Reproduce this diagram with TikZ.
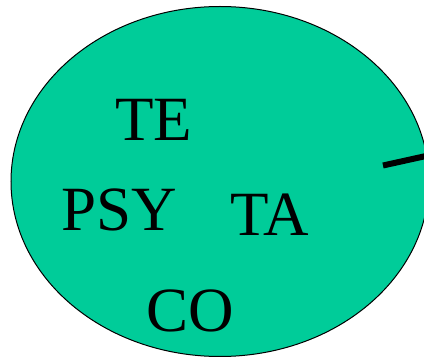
\documentclass[tikz,border=0pt]{standalone}
\usepackage{fontspec}
\setmainfont{Liberation Serif}
\definecolor{blobgreen}{RGB}{0,204,153}
\begin{document}
\begin{tikzpicture}[x=1pt,y=-1pt,
  lbl/.style={inner sep=0pt,anchor=base,font=\fontsize{63}{63}\selectfont}]
\useasboundingbox (0,0) rectangle (424,358);
\clip (0,0) rectangle (424,358);
\draw[fill=blobgreen,line width=1pt] (220,181.5) ellipse [x radius=209, y radius=175];
\coordinate (tickin) at (383,165.5);
\coordinate (tickout) at (426,156);
\draw[line width=6pt] (tickin) -- (tickout);
\node[lbl] (te) at (153.5,141) {TE};
\node[lbl] (psy) at (119.5,231) {PSY};
\node[lbl] (ta) at (269.5,236) {TA};
\node[lbl] (co) at (190.5,332) {CO};
\end{tikzpicture}
\end{document}
